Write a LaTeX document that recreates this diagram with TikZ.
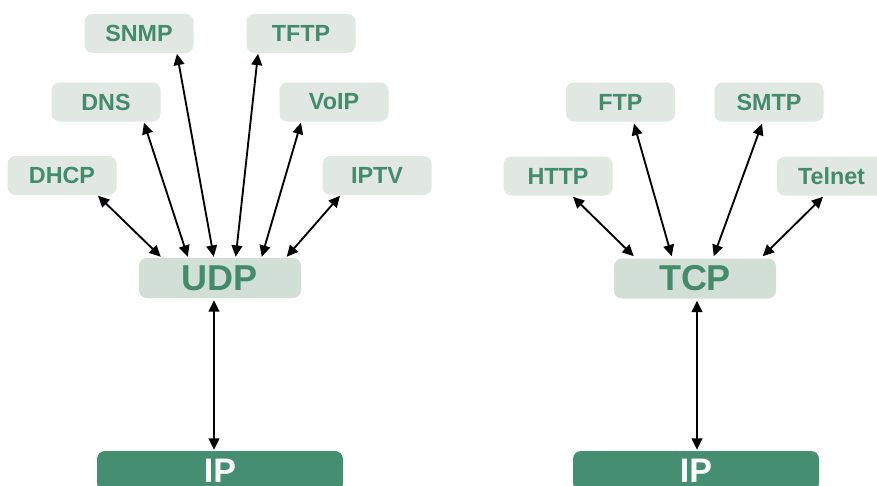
\documentclass[tikz,border=0pt]{standalone}
\usepackage{fontspec}
\setmainfont{Liberation Sans}
\usetikzlibrary{arrows.meta,calc}
\definecolor{boxfill}{HTML}{E1E7E3}
\definecolor{protofill}{HTML}{D2DFD7}
\definecolor{txtgreen}{HTML}{438B6B}
\definecolor{ipfill}{HTML}{468E71}
\tikzset{
  app/.style={fill=boxfill, rounded corners=6pt, minimum width=81.75pt, minimum height=29.25pt, text=txtgreen, font=\fontsize{17.5}{20}\selectfont\bfseries, inner sep=0pt},
  proto/.style={fill=protofill, rounded corners=6pt, minimum width=121.5pt, minimum height=30pt, text=txtgreen, font=\fontsize{27}{30}\selectfont\bfseries, inner sep=0pt},
  ipbox/.style={fill=ipfill, rounded corners=6pt, minimum width=184.5pt, minimum height=30pt, text=white, font=\fontsize{25.5}{28}\selectfont\bfseries, inner sep=0pt},
  arr/.style={{Triangle[length=8.5pt,width=8pt]}-{Triangle[length=8.5pt,width=8pt]}, line width=1.4pt, black}
}
\begin{document}
\begin{tikzpicture}[x=0.75pt,y=-0.75pt]
\path[use as bounding box] (0,0) rectangle (877,485);
\clip (0,0) rectangle (877,485);
\fill[white] (0,0) rectangle (877,485);
% UDP side
\node[app] (snmp) at (139,33.5) {SNMP};
\node[app] (tftp) at (301,33.5) {TFTP};
\node[app] (dns) at (106,102) {DNS};
\node[app] (voip) at (334,102) {VoIP};
\node[app] (dhcp) at (62,175.5) {DHCP};
\node[app] (iptv) at (377,175.5) {IPTV};
\node[proto] (udp) at (220,278) {UDP};
\node[ipbox] (ipa) at (220,471) {IP};
% TCP side
\node[app] (ftp) at (620.5,102) {FTP};
\node[app] (smtp) at (769,102) {SMTP};
\node[app] (http) at (558,176) {HTTP};
\node[app] (telnet) at (831.5,176) {Telnet};
\node[proto] (tcp) at (695,278.5) {TCP};
\node[ipbox] (ipb) at (696,471) {IP};
% UDP arrows
\draw[arr] ($(dhcp.south)+(36,0.5)$) -- ($(udp.north west)+(22,-1)$);
\draw[arr] ($(dns.south)+(38,1)$) -- ($(udp.north west)+(49,-1)$);
\draw[arr] ($(snmp.south)+(38,0.5)$) -- ($(udp.north west)+(75,-1)$);
\draw[arr] ($(tftp.south)+(-43,0.5)$) -- ($(udp.north west)+(97,-1)$);
\draw[arr] ($(voip.south)+(-33,1)$) -- ($(udp.north west)+(123,-1)$);
\draw[arr] ($(iptv.south)+(-37,0.5)$) -- ($(udp.north west)+(148,-1)$);
\draw[arr] ($(udp.south)+(-6,2)$) -- ($(ipa.north)+(-6,-1)$);
% TCP arrows
\draw[arr] ($(http.south)+(15,1)$) -- ($(tcp.north west)+(20,-2)$);
\draw[arr] ($(ftp.south)+(13.5,2)$) -- ($(tcp.north west)+(58,-2)$);
\draw[arr] ($(smtp.south)+(-7,2)$) -- ($(tcp.north west)+(100,-2)$);
\draw[arr] ($(telnet.south)+(-8.5,1)$) -- ($(tcp.north west)+(149,-2)$);
\draw[arr] ($(tcp.south)+(2,2)$) -- ($(ipb.north)+(1,-1)$);
\end{tikzpicture}
\end{document}
